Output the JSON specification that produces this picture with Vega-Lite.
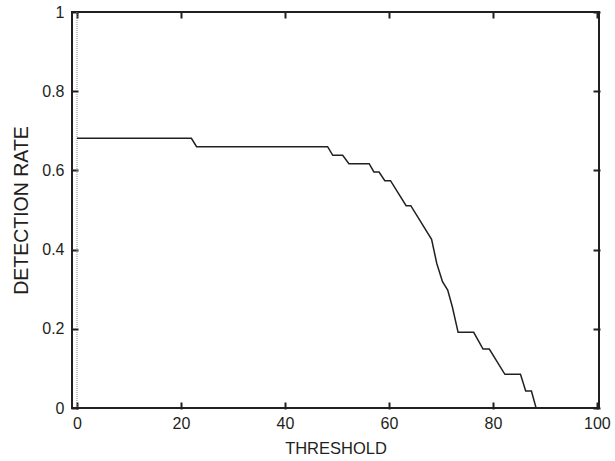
{
  "$schema": "https://vega.github.io/schema/vega-lite/v6.json",
  "width": 527,
  "height": 396,
  "autosize": "none",
  "padding": {"left": 72, "top": 12, "right": 16, "bottom": 53},
  "background": "white",
  "config": {
    "view": {"stroke": "#231f20", "strokeWidth": 2},
    "axis": {
      "labelFont": "Liberation Sans",
      "titleFont": "Liberation Sans",
      "labelFontSize": 16,
      "titleFontSize": 16.5,
      "titleFontWeight": "normal",
      "labelColor": "#231f20",
      "titleColor": "#231f20",
      "ticks": true,
      "tickColor": "#231f20",
      "tickOpacity": 1,
      "tickWidth": 2,
      "tickSize": 7,
      "offset": -6,
      "grid": false,
      "domain": false,
      "zindex": 1
    }
  },
  "datasets": {
    "curve": [
      {"threshold": 0, "rate": 0.681},
      {"threshold": 22, "rate": 0.681},
      {"threshold": 23, "rate": 0.660},
      {"threshold": 48.2, "rate": 0.660},
      {"threshold": 49.2, "rate": 0.638},
      {"threshold": 51.1, "rate": 0.638},
      {"threshold": 52.3, "rate": 0.617},
      {"threshold": 56.2, "rate": 0.617},
      {"threshold": 57.1, "rate": 0.596},
      {"threshold": 58.1, "rate": 0.596},
      {"threshold": 59.2, "rate": 0.574},
      {"threshold": 60.3, "rate": 0.574},
      {"threshold": 63.3, "rate": 0.511},
      {"threshold": 64.2, "rate": 0.511},
      {"threshold": 68.2, "rate": 0.426},
      {"threshold": 69.2, "rate": 0.365},
      {"threshold": 70.3, "rate": 0.319},
      {"threshold": 71.3, "rate": 0.298},
      {"threshold": 72.2, "rate": 0.255},
      {"threshold": 73.3, "rate": 0.191},
      {"threshold": 76.3, "rate": 0.191},
      {"threshold": 78.1, "rate": 0.149},
      {"threshold": 79.3, "rate": 0.149},
      {"threshold": 82.3, "rate": 0.085},
      {"threshold": 85.3, "rate": 0.085},
      {"threshold": 86.3, "rate": 0.043},
      {"threshold": 87.4, "rate": 0.043},
      {"threshold": 88.3, "rate": 0}
    ],
    "zero": [{"threshold": 0}]
  },
  "layer": [
    {
      "data": {"name": "zero"},
      "mark": {"type": "rule", "stroke": "#888", "strokeWidth": 1, "strokeDash": [1, 1]},
      "encoding": {
        "x": {"field": "threshold", "type": "quantitative",
              "scale": {"domain": [-0.96, 100.4], "nice": false, "zero": false},
              "axis": {"orient": "top", "labels": false, "title": null, "values": [0, 20, 40, 60, 80, 100]}}
      }
    },
    {
      "data": {"name": "curve"},
      "mark": {"type": "line", "stroke": "#231f20", "strokeWidth": 1.5, "clip": true},
      "encoding": {
        "x": {"field": "threshold", "type": "quantitative",
              "scale": {"domain": [-0.96, 100.4], "nice": false, "zero": false},
              "axis": {"orient": "bottom", "title": "THRESHOLD", "values": [0, 20, 40, 60, 80, 100], "labelPadding": 6, "titleY": 38, "titleBaseline": "top"}},
        "y": {"field": "rate", "type": "quantitative",
              "scale": {"domain": [0, 1], "nice": false},
              "axis": {"orient": "left", "title": "DETECTION RATE", "format": ".1~f", "values": [0, 0.2, 0.4, 0.6, 0.8, 1], "labelPadding": 7, "titleX": -51, "titleBaseline": "alphabetic", "titleFontSize": 19.5}}
      }
    },
    {
      "data": {"name": "curve"},
      "mark": {"type": "point", "opacity": 0},
      "encoding": {
        "x": {"field": "threshold", "type": "quantitative",
              "scale": {"domain": [-0.96, 100.4], "nice": false, "zero": false},
              "axis": null},
        "y": {"field": "rate", "type": "quantitative",
              "scale": {"domain": [0, 1], "nice": false},
              "axis": {"orient": "right", "labels": false, "title": null, "values": [0, 0.2, 0.4, 0.6, 0.8, 1]}}
      }
    }
  ],
  "resolve": {"axis": {"x": "independent", "y": "independent"}}
}
